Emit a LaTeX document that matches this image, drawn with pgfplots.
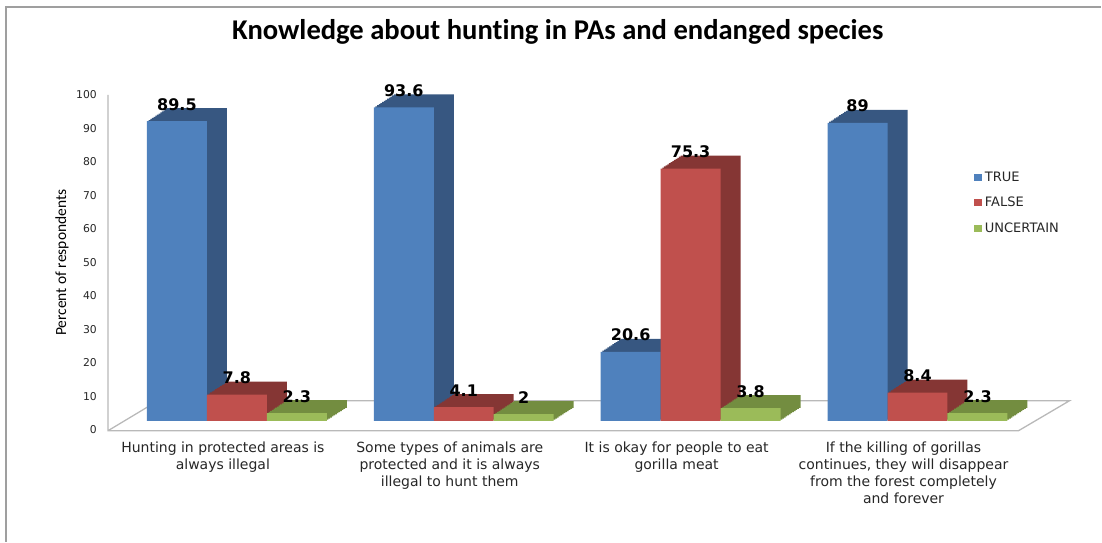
\documentclass[border=0pt]{standalone}
\usepackage{pgfplots}
\pgfplotsset{compat=1.18}
\usepackage{fontspec}
\setmainfont{DejaVu Sans}
\newfontfamily\carlito[Ligatures=NoCommon]{Carlito}
\definecolor{bF}{HTML}{4F81BD}\definecolor{bS}{HTML}{375781}
\definecolor{rF}{HTML}{C0504D}\definecolor{rS}{HTML}{853634}
\definecolor{gF}{HTML}{9BBB59}\definecolor{gS}{HTML}{738D40}
\begin{document}
\begin{tikzpicture}[x=1pt,y=1pt]
\path (0,0) rectangle (1102,542);
% frame
\draw[gray!75, line width=1.2pt] (6,0) -- (6,535) -- (1102,535);
% title
\node[font=\carlito\fontsize{28.6}{30}\selectfont\bfseries] at (558,510) {Knowledge about hunting in PAs and endanged species};
% floor and wall
\draw[gray!55, line width=1.3pt] (108,447) -- (108,111) -- (1019,111) -- (1070,141) -- (158,141) -- (108,111);
\begin{axis}[
  at={(108pt,121pt)}, anchor=south west,
  scale only axis, width=962pt, height=335pt,
  xmin=-0.5683, xmax=3.6696, ymin=0, ymax=100,
  clip=false,
  axis line style={draw=none}, major tick style={draw=none},
  ytick={0,10,...,100},
  yticklabel style={font=\fontsize{10.8}{12}\selectfont, text=black!85, inner sep=0pt, xshift=-11pt, yshift=-9pt},
  xtick={0,1,2,3},
  xticklabels={{Hunting in protected areas is\\always illegal},
               {Some types of animals are\\protected and it is always\\illegal to hunt them},
               {It is okay for people to eat\\gorilla meat},
               {If the killing of gorillas\\continues, they will disappear\\from the forest completely\\and forever}},
  xticklabel style={align=center, font=\fontsize{14}{17}\selectfont, text=black!85, anchor=north, inner sep=0pt, yshift=-21pt, xshift=-14pt},
  ylabel={Percent of respondents},
  ylabel style={at={(axis description cs:-0.0478,0.472)}, anchor=center, font=\carlito\fontsize{15.5}{17}\selectfont},
  /pgf/number format/assume math mode=true,
  legend style={draw=none, fill=none, at={(axis description cs:0.901,0.752)}, anchor=north west,
    font=\fontsize{13}{14}\selectfont, text=black!85, row sep=9.5pt, inner sep=0pt,
    nodes={inner sep=2.5pt}},
  legend image code/.code={\fill[#1] (0pt,-3.5pt) rectangle (8pt,3.5pt);},
  legend cell align=left,
  every node near coord/.append style={font=\fontsize{16}{16}\selectfont\bfseries, anchor=base, inner sep=0pt, yshift=11pt, text=black},
]
% TRUE
\pgfplotsinvokeforeach{1,...,12}{
\addplot[ybar, bar width=60pt, bar shift=-60pt, fill=bS, draw=none, forget plot,
  xshift={20pt*#1/12}, yshift={13pt*#1/12}] coordinates {(0,89.5) (1,93.6) (2,20.6) (3,89)};}
\addplot[ybar, bar width=60pt, bar shift=-60pt, fill=bF, draw=none, nodes near coords,
  every node near coord/.append style={xshift=-60pt}]
  coordinates {(0,89.5) (1,93.6) (2,20.6) (3,89)};
\addlegendentry{TRUE}
% FALSE
\pgfplotsinvokeforeach{1,...,12}{
\addplot[ybar, bar width=60pt, bar shift=0pt, fill=rS, draw=none, forget plot,
  xshift={20pt*#1/12}, yshift={13pt*#1/12}] coordinates {(0,7.8) (1,4.1) (2,75.3) (3,8.4)};}
\addplot[ybar, bar width=60pt, bar shift=0pt, fill=rF, draw=none, nodes near coords]
  coordinates {(0,7.8) (1,4.1) (2,75.3) (3,8.4)};
\addlegendentry{FALSE}
% UNCERTAIN
\pgfplotsinvokeforeach{1,...,12}{
\addplot[ybar, bar width=60pt, bar shift=60pt, fill=gS, draw=none, forget plot,
  xshift={20pt*#1/12}, yshift={13pt*#1/12}] coordinates {(0,2.3) (1,2) (2,3.8) (3,2.3)};}
\addplot[ybar, bar width=60pt, bar shift=60pt, fill=gF, draw=none, nodes near coords,
  every node near coord/.append style={xshift=60pt}]
  coordinates {(0,2.3) (1,2) (2,3.8) (3,2.3)};
\addlegendentry{UNCERTAIN}
\end{axis}
\end{tikzpicture}
\end{document}
